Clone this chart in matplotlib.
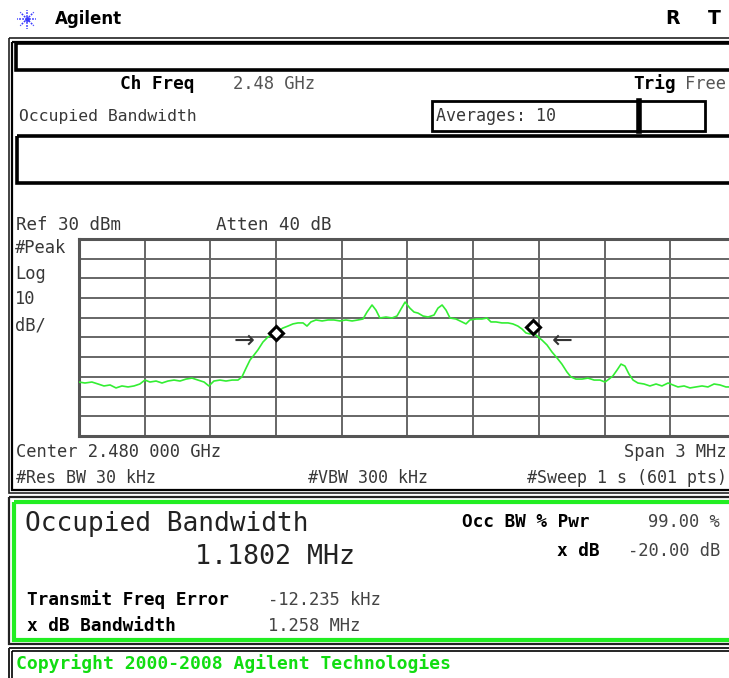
import matplotlib
matplotlib.use("Agg")
import matplotlib.pyplot as plt
from matplotlib.patches import Rectangle
import math

# ---------------- data ----------------
freq_offset_mhz = [-1.500, -1.473, -1.441, -1.413, -1.386, -1.358, -1.331, -1.304, -1.276, -1.249,
                   -1.222, -1.199, -1.176, -1.148, -1.121, -1.094, -1.066, -1.039, -1.011, -0.984,
                   -0.957, -0.929, -0.907, -0.884, -0.856, -0.829, -0.801, -0.774, -0.756, -0.737,
                   -0.719, -0.701, -0.683, -0.660, -0.637, -0.614, -0.591, -0.569, -0.546, -0.523,
                   -0.500, -0.477, -0.459, -0.441, -0.418, -0.390, -0.363, -0.336, -0.308, -0.281,
                   -0.253, -0.226, -0.203, -0.185, -0.162, -0.144, -0.126, -0.098, -0.071, -0.048,
                   -0.030, -0.011, 0.011, 0.030, 0.048, 0.071, 0.094, 0.121, 0.139, 0.158,
                   0.176, 0.194, 0.221, 0.249, 0.267, 0.285, 0.313, 0.340, 0.363, 0.381,
                   0.404, 0.431, 0.459, 0.481, 0.504, 0.523, 0.541, 0.559, 0.577, 0.596,
                   0.614, 0.637, 0.660, 0.683, 0.705, 0.728, 0.746, 0.769, 0.797, 0.824,
                   0.852, 0.879, 0.902, 0.920, 0.938, 0.957, 0.975, 0.993, 1.011, 1.030,
                   1.052, 1.080, 1.107, 1.135, 1.162, 1.190, 1.212, 1.235, 1.263, 1.290,
                   1.317, 1.345, 1.372, 1.400, 1.427, 1.454, 1.500]
level_dbm = [-42.6, -43.1, -42.6, -43.6, -44.6, -44.1, -45.6, -44.6, -45.1, -44.6,
             -43.6, -41.6, -42.6, -42.1, -43.1, -42.1, -41.6, -42.1, -41.1, -40.6,
             -41.6, -42.6, -44.6, -42.1, -41.6, -42.1, -41.6, -41.6, -40.0, -35.5,
             -31.4, -28.9, -26.3, -22.3, -19.7, -18.2, -16.7, -15.2, -14.2, -13.1,
             -12.6, -12.6, -14.2, -12.1, -11.1, -11.6, -11.1, -11.1, -11.6, -11.1,
             -11.6, -11.1, -10.6, -7.1, -3.5, -6.1, -10.1, -9.6, -10.1, -9.1,
             -5.6, -2.0, -5.1, -7.1, -7.6, -9.1, -9.6, -8.6, -5.1, -3.5,
             -6.1, -10.1, -10.6, -12.1, -13.1, -11.1, -10.6, -10.6, -10.1, -12.1,
             -12.1, -12.6, -12.6, -13.1, -14.2, -15.7, -17.7, -18.2, -17.7, -19.7,
             -21.3, -23.8, -27.4, -30.4, -33.5, -37.5, -40.0, -41.1, -41.1, -40.6,
             -41.6, -41.6, -42.6, -41.1, -39.5, -36.5, -33.5, -34.5, -38.5, -41.6,
             -43.1, -43.6, -44.6, -43.6, -44.6, -43.1, -44.1, -45.1, -44.6, -45.6,
             -45.1, -44.6, -45.1, -43.6, -44.1, -45.1, -45.1]

marker_freq = [-0.600, 0.573]
marker_level = [-17.5, -14.6]
arrow_freq = [-0.745, 0.705]
arrow_level = [-21.8, -21.8]
arrow_glyphs = ["\u2192", "\u2190"]

ref_level = 30
db_per_div = 10
span_mhz = 3.0

# ---------------- figure ----------------
W, H = 729, 678
fig = plt.figure(figsize=(W / 100, H / 100), dpi=100)
fig.patch.set_facecolor("white")

bg = fig.add_axes([0, 0, 1, 1])
bg.set_xlim(0, W)
bg.set_ylim(H, 0)
bg.axis("off")

MONO = "DejaVu Sans Mono"
TXT = "#383838"


def rect(x0, y0, x1, y1, color="black", lw=1.5):
    bg.add_patch(Rectangle((x0, y0), x1 - x0, y1 - y0, fill=False,
                           edgecolor=color, linewidth=lw, clip_on=False))


def t(x, y, s, size=12.3, weight="normal", color=TXT, ha="left", family=MONO):
    bg.text(x, y, s, fontsize=size, fontweight=weight, color=color,
            ha=ha, va="center", family=family)


# logo
for k in range(8):
    a = k * math.pi / 4
    bg.plot([27 + 2.5 * math.cos(a), 27 + 9.5 * math.cos(a)],
            [19 + 2.5 * math.sin(a), 19 + 9.5 * math.sin(a)],
            color="#3b3bff", lw=1.1, ls=(0, (1.2, 0.8)))
bg.plot([27], [19], marker="o", ms=2.5, color="#3b3bff")
t(55, 19, "Agilent", size=12, weight="bold", color="black", family="DejaVu Sans")
t(665, 19, "R", size=13.5, weight="bold", color="black", family="DejaVu Sans")
t(708, 19, "T", size=13.5, weight="bold", color="black", family="DejaVu Sans")

# outer frame (double line)
rect(9, 38, 760, 493, color="#222222", lw=1.2)
rect(12.5, 41.5, 760, 490, color="black", lw=1.6)
# top boxes
rect(16, 43, 760, 70, color="black", lw=2.6)
rect(432, 101, 705, 131, color="black", lw=2.0)
bg.plot([639, 639], [101, 131], color="black", lw=4)
rect(17, 136, 760, 183, color="black", lw=2.6)

t(120, 84, "Ch Freq", size=12.8, weight="bold", color="black")
t(233, 84, "2.48 GHz", size=12.3, color="#555555")
t(633, 84, "Trig", size=12.8, weight="bold", color="black")
t(685, 84, "Free", size=12.3, color="#555555")
t(19, 116, "Occupied Bandwidth", size=11.8)
t(436, 116, "Averages: 10", size=12.0)

t(16, 225, "Ref 30 dBm", size=12.6)
t(216, 225, "Atten 40 dB", size=12.6)
t(15, 248, "#Peak", size=12.3)
t(15, 274, "Log", size=12.3)
t(15, 299, "10", size=12.3)
t(15, 325, "dB/", size=12.3)

t(16, 452, "Center 2.480 000 GHz", size=12.3)
t(727, 452, "Span 3 MHz", size=12.3, ha="right")
t(16, 478, "#Res BW 30 kHz", size=12.0)
t(308, 478, "#VBW 300 kHz", size=12.0)
t(727, 478, "#Sweep 1 s (601 pts)", size=12.0, ha="right")

# results box
rect(9, 497, 760, 643.5, color="#222222", lw=1.6)
rect(14, 501.5, 760, 640, color="#22ee22", lw=3.0)
t(25, 524, "Occupied Bandwidth", size=18.8, color="#222222")
t(195, 557, "1.1802 MHz", size=19.2, color="#222222")
t(462, 522, "Occ BW % Pwr", size=12.8, weight="bold", color="black")
t(720, 522, "99.00 %", size=12.3, ha="right", color="#444444")
t(600, 551, "x dB", size=12.8, weight="bold", color="black", ha="right")
t(720, 551, "-20.00 dB", size=12.3, ha="right", color="#444444")
t(27, 600, "Transmit Freq Error", size=12.8, weight="bold", color="black")
t(268, 600, "-12.235 kHz", size=12.3, color="#444444")
t(27, 626, "x dB Bandwidth", size=12.8, weight="bold", color="black")
t(268, 626, "1.258 MHz", size=12.3, color="#444444")

# copyright box
rect(9, 648, 760, 700, color="#222222", lw=1.4)
rect(12.5, 651, 760, 700, color="black", lw=1.2)
t(16, 664, "Copyright 2000-2008 Agilent Technologies", size=13, weight="bold",
  color="#11dd11")

# ---------------- spectrum graticule ----------------
ax = fig.add_axes([79 / W, 1 - 436 / H, 657 / W, 197 / H])
ax.set_facecolor("white")
half = span_mhz / 2
ax.set_xlim(-half, half)
ax.set_ylim(ref_level - 10 * db_per_div, ref_level)
ax.set_xticks([-half + i * span_mhz / 10 for i in range(11)])
ax.set_yticks([ref_level - i * db_per_div for i in range(11)])
ax.tick_params(length=0, labelbottom=False, labelleft=False)
ax.grid(True, color="#666666", lw=1.4)
for sp in ax.spines.values():
    sp.set_color("#555555")
    sp.set_linewidth(2.2)

ax.plot(freq_offset_mhz, level_dbm, color="#33ee33", lw=1.2, zorder=3)
ax.plot(marker_freq, marker_level, "D", mfc="white", mec="black", mew=2.2, ms=7, zorder=4)
for fx, ly, g in zip(arrow_freq, arrow_level, arrow_glyphs):
    ax.text(fx, ly, g, fontsize=18, color="#333333", ha="center", va="center",
            family="DejaVu Sans", zorder=4)

fig.savefig("out.png", dpi=100)
